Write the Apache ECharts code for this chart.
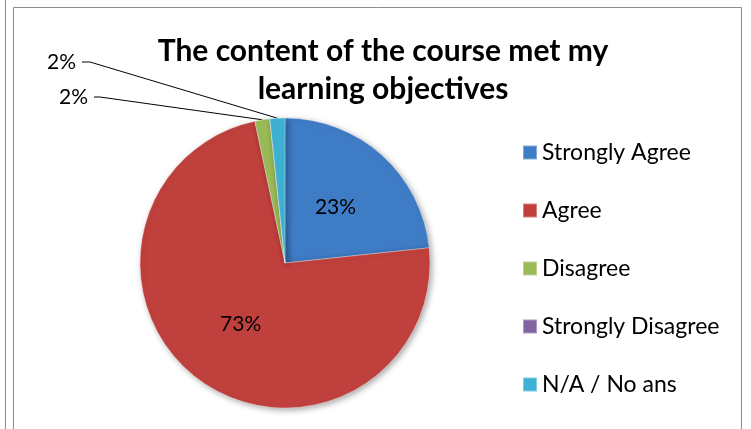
<!DOCTYPE html>
<html>
<head>
<meta charset="utf-8">
<script src="https://cdn.jsdelivr.net/npm/echarts@6/dist/echarts.min.js"></script>
<style>
  html, body { margin: 0; padding: 0; background: #fff; }
  #chart { width: 751px; height: 429px; }
</style>
</head>
<body>
<div id="chart"></div>
<script>
// responses (counts)
var categories = ['Strongly Agree', 'Agree', 'Disagree', 'Strongly Disagree', 'N/A / No ans']
var values = [14, 44, 1, 0, 1]
var colors = ['#3F7CC6', '#C0403D', '#9BBB59', '#8064A2', '#3EB2D4']

var font = 'Lato, "Open Sans", sans-serif'

// where the small outside labels go (label anchor, elbow)
var outsideLabels = {
  2: { x: 88, y: 97, elbow: 100 },
  4: { x: 76, y: 62, elbow: 90 }
}

var data = categories.map(function (name, i) {
  var item = { name: name, value: values[i] }
  if (values[i] === 0) {
    item.label = { show: false }
    item.labelLine = { show: false }
  } else if (outsideLabels[i]) {
    item.label = { position: 'outside' }
  } else {
    item.label = { position: 'inside' }
  }
  return item
})

var myChart = echarts.init(document.getElementById('chart'))

var option = {
  animation: false,
  color: colors,
  title: {
    text: 'The content of the course met my\nlearning objectives',
    left: 378,
    top: 27,
    textAlign: 'center',
    textStyle: {
      fontFamily: font,
      fontSize: 30,
      fontWeight: 'bold',
      color: '#000',
      lineHeight: 38
    }
  },
  legend: {
    orient: 'vertical',
    left: 522,
    top: 141,
    padding: 0,
    itemWidth: 14,
    itemHeight: 14,
    itemGap: 35,
    icon: 'rect',
    data: categories,
    textStyle: {
      fontFamily: font,
      fontSize: 23,
      color: '#000'
    }
  },
  graphic: [
    {
      type: 'line',
      shape: { x1: 5.5, y1: 0, x2: 5.5, y2: 429 },
      style: { stroke: '#8c8c8c', lineWidth: 1 }
    },
    {
      type: 'rect',
      shape: { x: 13.5, y: 7.5, width: 728, height: 440 },
      style: { fill: 'none', stroke: '#8c8c8c', lineWidth: 1 }
    }
  ],
  series: [
    {
      type: 'pie',
      center: [285, 263],
      radius: 145,
      startAngle: 90,
      clockwise: true,
      percentPrecision: 0,
      data: data,
      itemStyle: {
        borderColor: 'rgba(255,255,255,0.35)',
        borderWidth: 1,
        shadowBlur: 6,
        shadowOffsetX: 2,
        shadowOffsetY: 2,
        shadowColor: 'rgba(0,0,0,0.35)'
      },
      label: {
        formatter: '{d}%',
        fontFamily: font,
        fontSize: 21,
        color: '#000'
      },
      labelLine: {
        show: true,
        lineStyle: { color: '#000', width: 1 }
      },
      emphasis: { disabled: true },
      labelLayout: function (params) {
        var o = outsideLabels[params.dataIndex]
        if (!o || !params.labelLinePoints) return {}
        var p0 = params.labelLinePoints[0]
        return {
          x: o.x,
          y: o.y,
          align: 'right',
          verticalAlign: 'middle',
          labelLinePoints: [p0, [o.elbow, o.y], [o.x + 6, o.y]]
        }
      }
    }
  ]
}

myChart.setOption(option)
</script>
</body>
</html>
